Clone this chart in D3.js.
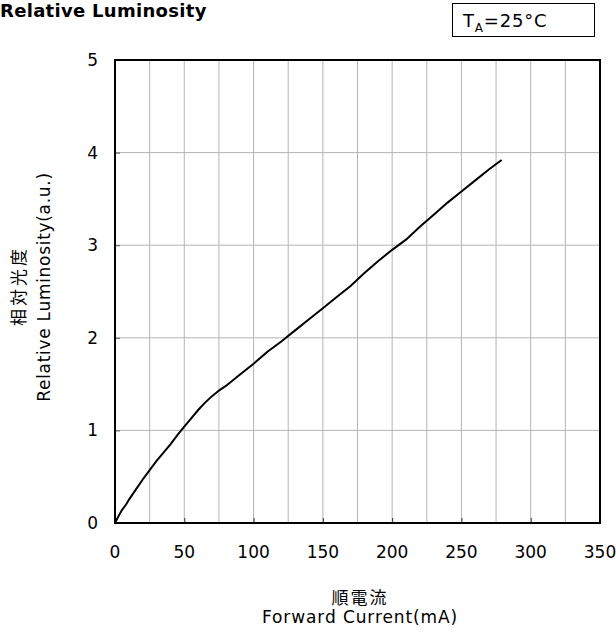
<!DOCTYPE html>
<html>
<head>
<meta charset="utf-8">
<script src="https://cdn.jsdelivr.net/npm/d3@7"></script>
<style>
  body { margin: 0; background: #fff; }
  svg { font-family: "DejaVu Sans", Verdana, sans-serif; }
</style>
</head>
<body>
<svg width="616" height="633"></svg>
<script>
// curve: forward current (mA) vs relative luminosity
let current = [0, 2, 5, 8, 10, 15, 20, 25, 30, 35, 40, 45, 50, 55, 60, 65, 70, 75, 80, 90, 100, 110, 120, 130, 140, 150, 160, 170, 180, 190, 200, 210, 220, 230, 240, 250, 260, 270, 279];
let luminosity = [0, 0.06, 0.14, 0.2, 0.25, 0.36, 0.47, 0.57, 0.67, 0.76, 0.85, 0.95, 1.04, 1.13, 1.22, 1.3, 1.37, 1.43, 1.48, 1.6, 1.72, 1.85, 1.96, 2.08, 2.2, 2.32, 2.44, 2.56, 2.7, 2.83, 2.95, 3.06, 3.2, 3.33, 3.46, 3.58, 3.7, 3.82, 3.92];
let xTicks = [0, 50, 100, 150, 200, 250, 300, 350];
let yTicks = [0, 1, 2, 3, 4, 5];

let svg = d3.select("svg");
let margin = { top: 60, right: 16, bottom: 110, left: 115 },
    width = 616 - margin.left - margin.right,
    height = 633 - margin.top - margin.bottom;

let x = d3.scaleLinear().domain([0, 350]).range([0, width]);
let y = d3.scaleLinear().domain([0, 5]).range([height, 0]);

let g = svg.append("g")
    .attr("transform", "translate(" + margin.left + "," + margin.top + ")");

// grid: vertical every 25 mA, horizontal every unit
g.selectAll(".vgrid")
    .data(d3.range(25, 350, 25))
    .enter().append("line")
    .attr("x1", d => x(d)).attr("x2", d => x(d))
    .attr("y1", 0).attr("y2", height)
    .attr("stroke", "#b4b4b4").attr("stroke-width", 1);

g.selectAll(".hgrid")
    .data(yTicks.slice(1, -1))
    .enter().append("line")
    .attr("x1", 0).attr("x2", width)
    .attr("y1", d => y(d)).attr("y2", d => y(d))
    .attr("stroke", "#b4b4b4").attr("stroke-width", 1);

// small inward ticks
g.append("g")
    .attr("transform", "translate(0," + height + ")")
    .call(d3.axisBottom(x).tickValues(xTicks).tickSize(-5).tickFormat(""))
    .call(a => a.select(".domain").remove())
    .selectAll("line").attr("stroke", "#333");

g.append("g")
    .call(d3.axisLeft(y).tickValues(yTicks).tickSize(-5).tickFormat(""))
    .call(a => a.select(".domain").remove())
    .selectAll("line").attr("stroke", "#555");

// tick labels
g.selectAll(".xl")
    .data(xTicks)
    .enter().append("text")
    .attr("x", d => x(d))
    .attr("y", height + 35)
    .attr("text-anchor", "middle")
    .style("font-size", "17px")
    .text(d => d);

g.selectAll(".yl")
    .data(yTicks)
    .enter().append("text")
    .attr("x", -17)
    .attr("y", d => y(d) + 6)
    .attr("text-anchor", "end")
    .style("font-size", "17px")
    .text(d => d);

// frame
g.append("rect")
    .attr("width", width).attr("height", height)
    .attr("fill", "none").attr("stroke", "#000").attr("stroke-width", 2);

// curve
let line = d3.line()
    .x((d, i) => x(current[i]))
    .y(d => y(d));

g.append("path")
    .datum(luminosity)
    .attr("d", line)
    .attr("fill", "none")
    .attr("stroke", "#000")
    .attr("stroke-width", 2);

// title
svg.append("text")
    .attr("x", 0).attr("y", 17)
    .style("font-size", "18px")
    .style("font-weight", "bold")
    .style("letter-spacing", "0.3px")
    .text("Relative Luminosity");

// condition box
svg.append("rect")
    .attr("x", 452.5).attr("y", 3.5)
    .attr("width", 142).attr("height", 33)
    .attr("fill", "none").attr("stroke", "#000").attr("stroke-width", 1);

let cond = svg.append("text")
    .attr("x", 463).attr("y", 27)
    .style("font-size", "18px")
    .style("letter-spacing", "0.8px");
cond.append("tspan").text("T");
cond.append("tspan").attr("dy", 5).style("font-size", "12px").text("A");
cond.append("tspan").attr("dy", -5).text("=25°C");

// axis titles
svg.append("text")
    .attr("transform", "translate(25,286) rotate(-90)")
    .attr("text-anchor", "middle")
    .style("font-size", "17px")
    .style("letter-spacing", "3px")
    .style("font-family", "'Noto Sans CJK JP', sans-serif")
    .text("相対光度");

svg.append("text")
    .attr("transform", "translate(50,287) rotate(-90)")
    .attr("text-anchor", "middle")
    .style("font-size", "17px")
    .style("letter-spacing", "0.7px")
    .text("Relative Luminosity(a.u.)");

svg.append("text")
    .attr("x", 360).attr("y", 604)
    .attr("text-anchor", "middle")
    .style("font-size", "17px")
    .style("letter-spacing", "2px")
    .style("font-family", "'Noto Sans CJK JP', sans-serif")
    .text("順電流");

svg.append("text")
    .attr("x", 360).attr("y", 623)
    .attr("text-anchor", "middle")
    .style("font-size", "17px")
    .style("letter-spacing", "0.9px")
    .text("Forward Current(mA)");
</script>
</body>
</html>
